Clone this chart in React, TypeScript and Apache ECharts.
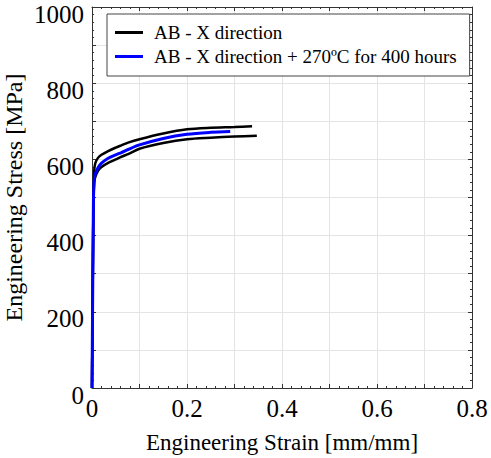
import React, { useEffect, useRef } from "react";
import * as echarts from "echarts";

const seriesNames = ["AB - X direction", "AB - X direction + 270ºC for 400 hours"];

// strain [mm/mm], stress [MPa]
const upperBlack: [number, number][] = [
  [0, 0], [0.003, 500], [0.004, 550], [0.005, 575], [0.007, 590], [0.0126, 604],
  [0.02, 612], [0.034, 622], [0.05, 631], [0.062, 637], [0.076, 644], [0.1, 653],
  [0.15, 668], [0.2, 679], [0.25, 683], [0.3, 685], [0.337, 687],
];
const lowerBlack: [number, number][] = [
  [0, 0], [0.003, 490], [0.004, 525], [0.006, 550], [0.0126, 570], [0.02, 580],
  [0.034, 591], [0.05, 600], [0.062, 607], [0.076, 614], [0.1, 628], [0.15, 643],
  [0.2, 653], [0.25, 657], [0.3, 660], [0.347, 662],
];
const blueAged: [number, number][] = [
  [0, 0], [0.003, 490], [0.004, 530], [0.0056, 556], [0.0126, 578], [0.02, 590],
  [0.034, 603], [0.05, 612], [0.062, 618], [0.076, 626], [0.1, 638], [0.15, 655],
  [0.2, 666], [0.25, 671], [0.291, 673],
];

const xTickLabels = ["0", "0.2", "0.4", "0.6", "0.8"];
const yTickLabels = ["0", "200", "400", "600", "800", "1000"];

const FONT = "Liberation Serif";

export default function App() {
  const ref = useRef<HTMLDivElement>(null);
  useEffect(() => {
    if (!ref.current) return;
    const chart = echarts.init(ref.current, undefined, { renderer: "svg" });
    const axisLineStyle = { color: "#333", width: 1 };
    const xFmt = (v: number) => {
      const k = Math.round(v * 10);
      return k % 2 === 0 ? "{t|" + xTickLabels[k / 2] + "}" : "";
    };
    const yFmt = (v: number) => {
      const k = Math.round(v / 100);
      return k % 2 === 0 ? "{t|" + yTickLabels[k / 2] + "}" : "";
    };
    const baseX = {
      type: "value" as const,
      min: 0,
      max: 0.8,
      interval: 0.1,
      axisLine: { show: true, onZero: false, lineStyle: axisLineStyle },
      axisTick: { show: true, inside: true, length: 4, lineStyle: axisLineStyle },
      minorTick: { show: true, splitNumber: 5, length: 2, lineStyle: axisLineStyle },
    };
    const baseY = {
      type: "value" as const,
      min: 0,
      max: 1000,
      interval: 100,
      axisLine: { show: true, onZero: false, lineStyle: axisLineStyle },
      axisTick: { show: true, inside: true, length: 4, lineStyle: axisLineStyle },
      minorTick: { show: true, splitNumber: 5, length: 2, lineStyle: axisLineStyle },
    };
    chart.setOption({
      animation: false,
      backgroundColor: "#fff",
      textStyle: { fontFamily: FONT, color: "#000" },
      grid: {
        left: 92,
        right: 19,
        top: 7,
        bottom: 70,
        containLabel: false,
        outerBoundsMode: "none",
      },
      legend: {
        orient: "vertical",
        left: 107,
        top: 14,
        data: seriesNames,
        icon: "rect",
        itemWidth: 28,
        itemHeight: 3,
        itemGap: 5,
        backgroundColor: "#fff",
        borderColor: "#444",
        borderWidth: 1,
        borderRadius: 0,
        padding: [9, 13, 10, 8],
        textStyle: { fontFamily: FONT, fontSize: 19, color: "#000", padding: [0, 0, 0, 6] },
      },
      xAxis: [
        {
          ...baseX,
          position: "bottom",
          splitLine: { show: true, lineStyle: { color: "#e4e4e4", width: 1 } },
          axisLabel: {
            formatter: xFmt,
            margin: 8,
            hideOverlap: false,
            rich: { t: { fontFamily: FONT, fontSize: 25, color: "#000", lineHeight: 25 } },
          },
          name: "Engineering Strain [mm/mm]",
          nameLocation: "middle",
          nameGap: 43,
          nameMoveOverlap: false,
          nameTextStyle: { fontFamily: FONT, fontSize: 23, color: "#000" },
        },
        {
          ...baseX,
          position: "top",
          splitLine: { show: false },
          axisLabel: { show: false },
        },
      ],
      yAxis: [
        {
          ...baseY,
          position: "left",
          splitLine: { show: true, lineStyle: { color: "#e4e4e4", width: 1 } },
          axisLabel: {
            formatter: yFmt,
            margin: 8,
            hideOverlap: false,
            rich: {
              t: { fontFamily: FONT, fontSize: 25, color: "#000", lineHeight: 25, padding: [14, 0, 0, 0] },
            },
          },
          name: "Engineering Stress [MPa]",
          nameLocation: "middle",
          nameGap: 66,
          nameMoveOverlap: false,
          nameTextStyle: { fontFamily: FONT, fontSize: 24, color: "#000", lineHeight: 24 },
        },
        {
          ...baseY,
          position: "right",
          splitLine: { show: false },
          axisLabel: { show: false },
        },
      ],
      series: [
        {
          name: seriesNames[0],
          type: "line",
          data: upperBlack,
          showSymbol: false,
          smooth: 0.3,
          color: "#000",
          lineStyle: { color: "#000", width: 2.5 },
        },
        {
          name: seriesNames[0],
          type: "line",
          data: lowerBlack,
          showSymbol: false,
          smooth: 0.3,
          color: "#000",
          lineStyle: { color: "#000", width: 2.5 },
        },
        {
          name: seriesNames[1],
          type: "line",
          data: blueAged,
          showSymbol: false,
          smooth: 0.3,
          color: "#0000ff",
          lineStyle: { color: "#0000ff", width: 3 },
        },
      ],
    });
    return () => chart.dispose();
  }, []);
  return (
    <div
      ref={ref}
      style={{ position: "fixed", left: 0, top: 0, width: 491, height: 458, background: "#fff" }}
    />
  );
}
